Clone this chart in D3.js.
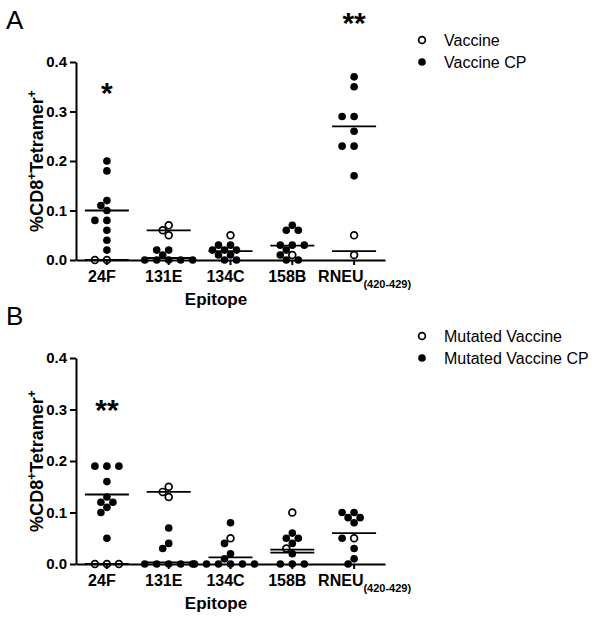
<!DOCTYPE html>
<html>
<head>
<meta charset="utf-8">
<script src="https://cdnjs.cloudflare.com/ajax/libs/d3/7.8.5/d3.min.js"></script>
<style>
  body { margin: 0; background: #fff; }
  svg { font-family: Arial, "Liberation Sans", sans-serif; }
</style>
</head>
<body>
<script>
// categories and tick labels
let categories = ['24F', '131E', '134C', '158B', 'RNEU']
let yTicks = [0, 0.1, 0.2, 0.3, 0.4]

// panel A values
let vaccineA = [[0, 0], [0.06, 0.05, 0.07], [0.05], [0.01], [0.05, 0.01]]
let vaccineCpA = [
  [0.20, 0.18, 0.12, 0.11, 0.10, 0.08, 0.08, 0.06, 0.04, 0.02],
  [0.02, 0.02, 0.01, 0, 0, 0, 0, 0],
  [0.03, 0.03, 0.02, 0.02, 0.02, 0.01, 0.01, 0, 0],
  [0.07, 0.06, 0.06, 0.03, 0.03, 0.03, 0.02, 0.01, 0, 0],
  [0.37, 0.35, 0.29, 0.29, 0.26, 0.23, 0.23, 0.17]
]
let vaccineLineA = [0, 0.06, null, null, 0.018]
let vaccineCpLineA = [0.10, 0.004, 0.018, 0.029, 0.27]
let starsA = ['*', '', '', '', '**']
let starValA = [0.35, null, null, null, 0.49]

// panel B values
let mutatedB = [[0, 0, 0], [0.14, 0.13, 0.15], [0.05], [0.10, 0.03], [0.05]]
let mutatedCpB = [
  [0.19, 0.19, 0.19, 0.16, 0.13, 0.12, 0.12, 0.11, 0.10, 0.05],
  [0.07, 0.04, 0.03, 0, 0, 0, 0, 0],
  [0.08, 0.04, 0.02, 0.01, 0, 0, 0, 0, 0, 0],
  [0.06, 0.05, 0.05, 0.04, 0.02, 0, 0, 0],
  [0.10, 0.10, 0.09, 0.09, 0.08, 0.05, 0.03, 0.01, 0]
]
let mutatedLineB = [0, 0.14, null, 0.028, null]
let mutatedCpLineB = [0.135, 0.003, 0.013, 0.022, 0.06]
let starsB = ['**', '', '', '', '']
let starValB = [0.31, null, null, null, null]

let svg = d3.select('body').append('svg')
    .attr('width', 602)
    .attr('height', 621)

function drawPanel(cfg) {
  let g = svg.append('g')
  let x = d3.scaleBand().domain(categories).range([76, 385])
  let y = d3.scaleLinear().domain([0, 0.4]).range([cfg.y0, cfg.y1])
  let r = 3.8

  // panel letter
  g.append('text').attr('x', 6).attr('y', cfg.y1 - 33)
    .attr('font-size', 26).text(cfg.letter)

  // y axis
  let yAxis = g.append('g').attr('transform', 'translate(76,0)')
    .call(d3.axisLeft(y).tickValues(yTicks).tickFormat(d3.format('.1f')).tickSize(6).tickSizeOuter(0))
  yAxis.select('.domain').attr('stroke-width', 2)
  yAxis.selectAll('.tick line').attr('stroke-width', 2)
  yAxis.selectAll('.tick text').attr('font-size', 15).attr('font-weight', 'bold')
    .attr('font-family', 'Arial, "Liberation Sans", sans-serif').attr('fill', '#000')

  // y title
  let yt = g.append('text')
    .attr('transform', `translate(43,${(cfg.y0 + cfg.y1) / 2}) rotate(-90)`)
    .attr('text-anchor', 'middle').attr('font-size', 18).attr('font-weight', 'bold')
  yt.append('tspan').text('%CD8')
  yt.append('tspan').attr('baseline-shift', 'super').attr('font-size', 12).text('+')
  yt.append('tspan').text('Tetramer')
  yt.append('tspan').attr('baseline-shift', 'super').attr('font-size', 12).text('+')

  // points, placed with a simple swarm so equal values spread sideways
  categories.forEach((c, i) => {
    let pts = []
    cfg.open[i].forEach(v => pts.push({ v: v, open: true }))
    cfg.filled[i].forEach(v => pts.push({ v: v, open: false }))
    pts.sort((a, b) => b.v - a.v)
    let cx = x(c) + x.bandwidth() / 2
    let placed = []
    pts.forEach(p => {
      let py = y(p.v)
      for (let k = 0; k < 20; k++) {
        let off = (k % 2 ? -1 : 1) * Math.ceil(k / 2) * 6
        let px = cx + off
        if (placed.every(q => Math.hypot(q.x - px, q.y - py) >= 7)) {
          placed.push({ x: px, y: py, open: p.open })
          break
        }
      }
    })
    g.selectAll(null).data(placed).enter().append('circle')
      .attr('cx', d => d.x).attr('cy', d => d.y).attr('r', d => d.open ? 3.4 : r)
      .attr('fill', d => d.open ? '#fff' : '#000')
      .attr('stroke', '#000').attr('stroke-width', d => d.open ? 1.7 : 0)

    // mean lines
    ;[cfg.openLine[i], cfg.filledLine[i]].forEach(m => {
      if (m == null) return
      g.append('line').attr('x1', cx - 22).attr('x2', cx + 22)
        .attr('y1', y(m)).attr('y2', y(m))
        .attr('stroke', '#000').attr('stroke-width', 1.8)
    })

    // significance stars
    if (cfg.stars[i]) {
      g.append('text').attr('x', cx).attr('y', y(cfg.starVal[i]) + 16)
        .attr('text-anchor', 'middle').attr('font-size', 30).attr('font-weight', 'bold')
        .text(cfg.stars[i])
    }
  })

  // x axis
  let xAxis = g.append('g').attr('transform', `translate(0,${cfg.y0})`)
    .call(d3.axisBottom(x).tickSize(5).tickSizeOuter(0).tickFormat(''))
  xAxis.select('.domain').attr('stroke-width', 2)
  xAxis.selectAll('.tick line').attr('stroke-width', 2)
  categories.forEach(c => {
    let cx = x(c) + x.bandwidth() / 2
    let t = g.append('text').attr('y', cfg.y0 + 22).attr('font-size', 16).attr('font-weight', 'bold')
    if (c === 'RNEU') {
      t.attr('x', cx - 36).attr('text-anchor', 'start')
      t.append('tspan').text('RNEU')
      t.append('tspan').attr('baseline-shift', 'sub').attr('font-size', 11).text('(420-429)')
    } else {
      t.attr('x', cx - 5).attr('text-anchor', 'middle').text(c)
    }
  })
  g.append('text').attr('x', 216)
    .attr('y', cfg.y0 + 45).attr('text-anchor', 'middle')
    .attr('font-size', 17).attr('font-weight', 'bold').text('Epitope')

  // legend
  cfg.legend.forEach((name, k) => {
    let ly = cfg.y1 - 22 + k * 22
    g.append('circle').attr('cx', 422).attr('cy', ly).attr('r', k ? r : 3.4)
      .attr('fill', k ? '#000' : '#fff').attr('stroke', '#000').attr('stroke-width', k ? 0 : 1.7)
    g.append('text').attr('x', 444).attr('y', ly + 6).attr('font-size', 16).text(name)
  })
}

drawPanel({
  letter: 'A', y0: 260, y1: 62,
  open: vaccineA, filled: vaccineCpA,
  openLine: vaccineLineA, filledLine: vaccineCpLineA,
  stars: starsA, starVal: starValA,
  legend: ['Vaccine', 'Vaccine CP']
})
drawPanel({
  letter: 'B', y0: 564, y1: 358,
  open: mutatedB, filled: mutatedCpB,
  openLine: mutatedLineB, filledLine: mutatedCpLineB,
  stars: starsB, starVal: starValB,
  legend: ['Mutated Vaccine', 'Mutated Vaccine CP']
})
</script>
</body>
</html>
